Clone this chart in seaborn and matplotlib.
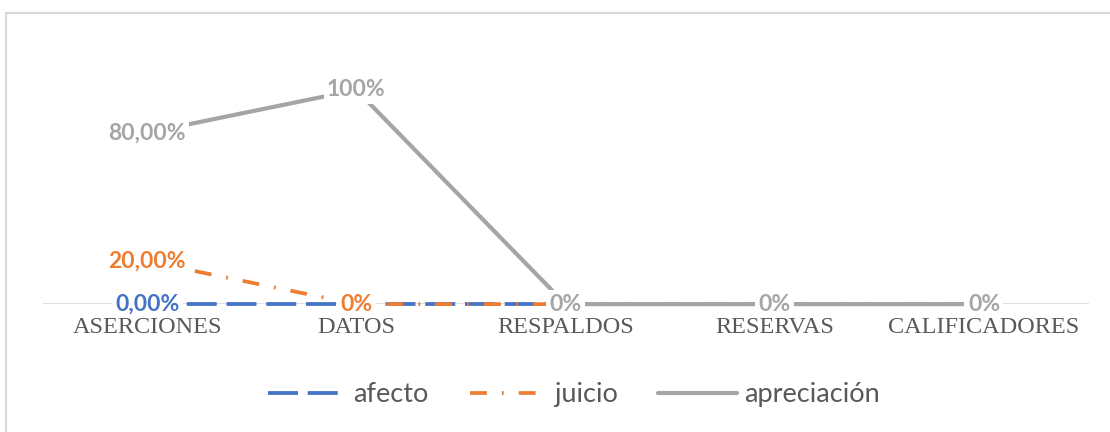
import pandas as pd
import matplotlib.pyplot as plt
import seaborn as sns
from matplotlib.patches import Rectangle

categorias = ["ASERCIONES", "DATOS", "RESPALDOS", "RESERVAS", "CALIFICADORES"]
afecto = [0.0, 0.0, 0.0, 0.0, 0.0]
juicio = [0.20, 0.0, 0.0, 0.0, 0.0]
apreciacion = [0.80, 1.00, 0.0, 0.0, 0.0]
etiq_afecto = ["0,00%", "0%", "0%", "0%", "0%"]
etiq_juicio = ["20,00%", "0%", "0%", "0%", "0%"]
etiq_apreciacion = ["80,00%", "100%", "0%", "0%", "0%"]

sns.set_style("white")
plt.rcParams['font.family'] = ['Lato', 'DejaVu Sans']

series = [
    ("afecto", afecto, etiq_afecto, "#4472C4", (0, (8, 2.6)), 2.7),
    ("juicio", juicio, etiq_juicio, "#ED7D31", (0, (4.5, 4, 0.5, 4)), 2.7),
    ("apreciación", apreciacion, etiq_apreciacion, "#A5A5A5", "-", 3.0),
]

fig = plt.figure(figsize=(11.1, 4.32), dpi=100)
ax = fig.add_axes([0.0383, 0.296, 0.9424, 0.595])

# baseline
ax.axhline(0, color="#D9D9D9", lw=1.2, zorder=1)

for k, (nombre, vals, etiq, col, ls, lw) in enumerate(series):
    sns.lineplot(x=categorias, y=vals, ax=ax, color=col, linestyle=ls,
                 linewidth=lw, sort=False, label=nombre, legend=False,
                 zorder=2 + k, clip_on=False)

for nombre, vals, etiq, col, ls, lw in series:
    for i, (v, t) in enumerate(zip(vals, etiq)):
        ax.text(i, v, t, color=col, fontsize=16.5, fontweight="bold",
                ha="center", va="center", zorder=6,
                bbox=dict(boxstyle="square,pad=0.15", fc="white", ec="none"))

ax.set_xlim(-0.5, len(categorias) - 0.5)
ax.set_ylim(0, 1.2)
ax.set_yticks([])
ax.set_xlabel("")
ax.set_ylabel("")
sns.despine(ax=ax, left=True, bottom=True)
ax.tick_params(axis="x", length=0, pad=9)
for lbl in ax.get_xticklabels():
    lbl.set_fontfamily("Liberation Serif")
    lbl.set_fontsize(17.5)
    lbl.set_color("#595959")

h, l = ax.get_legend_handles_labels()
leg = fig.legend(h, l, loc="center", bbox_to_anchor=(0.517, 0.086), ncol=3,
                 frameon=False, fontsize=19.5, handlelength=2.9, handletextpad=0.25,
                 columnspacing=1.5)
for t in leg.get_texts():
    t.set_color("#595959")

# chart frame
fig.patches.append(Rectangle((0.005, -0.01), 1.1, 0.98, transform=fig.transFigure,
                             fill=False, ec="#D9D9D9", lw=1.5))

fig.savefig("out.png")
